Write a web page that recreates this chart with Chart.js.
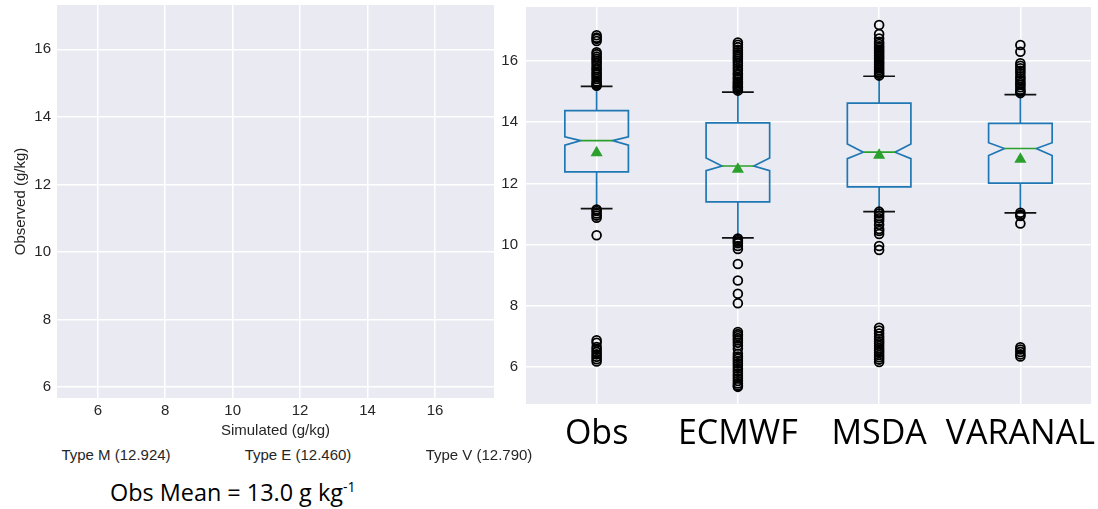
<!DOCTYPE html>
<html lang="en">
<head>
<meta charset="UTF-8">
<title>Specific humidity: simulated vs observed</title>
<script src="https://cdn.jsdelivr.net/npm/chart.js"></script>
<style>
  body {
    margin: 0;
    width: 1098px;
    height: 509px;
    position: relative;
    overflow: hidden;
    background: #fff;
    font-family: "Liberation Sans", Arial, sans-serif;
  }
  #scatterWrap { position: absolute; left: 0; top: 0; }
  #boxWrap { position: absolute; left: 500px; top: 0; }
  .typeLabel {
    position: absolute;
    top: 446px;
    font-size: 15px;
    color: #262626;
    transform: translateX(-50%);
    white-space: nowrap;
  }
  #obsMean {
    position: absolute;
    left: 110px;
    top: 476px;
    font-family: "Open Sans", sans-serif;
    font-size: 23.4px;
    color: #000;
    white-space: nowrap;
  }
  #obsMean sup { font-size: 14px; vertical-align: 9px; line-height: 0; }
</style>
</head>
<body>
<div id="scatterWrap"><canvas id="scatterChart" width="500" height="444"></canvas></div>
<div id="boxWrap"><canvas id="boxChart" width="598" height="509"></canvas></div>
<div class="typeLabel" id="typeM" style="left:116px"></div>
<div class="typeLabel" id="typeE" style="left:298px"></div>
<div class="typeLabel" id="typeV" style="left:479px"></div>
<div id="obsMean"></div>

<script>
// tick positions shared by both panels
const humTicks = [6, 8, 10, 12, 14, 16];

// scatter panel ranges (g/kg)
const simRange = [4.79, 17.75];
const obsRange = [5.68, 17.31];

// box plot summary per source
const boxLabels = ['Obs', 'ECMWF', 'MSDA', 'VARANAL'];
const boxQ1 = [12.38, 11.40, 11.89, 12.01];
const boxQ3 = [14.38, 13.98, 14.62, 13.96];
const boxMedian = [13.40, 12.57, 13.02, 13.14];
const notchLow = [13.25, 12.42, 12.81, 12.91];
const notchHigh = [13.52, 12.83, 13.29, 13.33];
const whiskerLow = [11.18, 10.22, 11.08, 11.04];
const whiskerHigh = [15.17, 14.98, 15.50, 14.90];
const boxMean = [13.0, 12.460, 12.924, 12.790];
const boxRange = [4.80, 17.76];

// outliers beyond the whiskers
const obsFliers = [15.19, 15.22, 15.27, 15.33, 15.41, 15.48, 15.56, 15.62, 15.70, 15.76, 15.84,
  15.92, 16.00, 16.07, 16.14, 16.22, 16.28, 16.65, 16.72, 16.76, 16.84,
  11.15, 11.10, 11.02, 10.95, 10.88, 10.31,
  6.88, 6.80, 6.66, 6.58, 6.50, 6.42, 6.34, 6.26, 6.19];
const ecmwfFliers = [15.03, 15.08, 15.13, 15.17, 15.22, 15.28, 15.33, 15.40, 15.46, 15.54, 15.60,
  15.68, 15.76, 15.84, 15.92, 16.00, 16.07, 16.14, 16.21, 16.28, 16.36, 16.45, 16.53, 16.60,
  10.20, 10.15, 10.10, 10.05, 9.96, 9.86, 9.37, 8.83, 8.40, 8.09,
  7.15, 7.08, 7.02, 6.95, 6.88, 6.80, 6.71, 6.60, 6.44, 6.35, 6.28, 6.20, 6.12, 6.04,
  5.96, 5.88, 5.79, 5.71, 5.63, 5.55, 5.47, 5.40, 5.36];
const msdaFliers = [15.52, 15.58, 15.64, 15.70, 15.76, 15.82, 15.88, 15.94, 16.00, 16.06, 16.12,
  16.18, 16.24, 16.30, 16.36, 16.42, 16.48, 16.55, 16.62, 16.73, 16.88, 17.17,
  11.08, 11.02, 10.94, 10.86, 10.78, 10.65, 10.51, 10.45, 10.35, 9.96, 9.83,
  7.29, 7.20, 7.10, 7.00, 6.92, 6.85, 6.78, 6.70, 6.62, 6.55, 6.48, 6.40, 6.33, 6.25, 6.17];
const varanalFliers = [14.95, 15.00, 15.06, 15.14, 15.22, 15.28, 15.36, 15.43, 15.50, 15.60,
  15.68, 15.76, 15.84, 15.92, 16.30, 16.52,
  11.04, 10.98, 10.94, 10.69,
  6.65, 6.58, 6.50, 6.42, 6.35];

const BG = '#eaeaf2';
const TEXT = '#262626';
const BOX_BLUE = '#1f77b4';
const MED_GREEN = '#2ca02c';

// grey panel behind the grid
const panelBackground = {
  id: 'panelBackground',
  beforeDraw(chart) {
    const {ctx, chartArea: a} = chart;
    ctx.save();
    ctx.fillStyle = BG;
    ctx.fillRect(a.left, a.top, a.width, a.height);
    ctx.restore();
  }
};

const fixedTicks = scale => { scale.ticks = humTicks.map(v => ({value: v})); };

// pin axis thickness and drop the label overhang padding
const fixSize = (w, h) => s => {
  if (w !== null) s.width = w;
  if (h !== null) s.height = h;
  s.paddingTop = 0;
  s.paddingBottom = 0;
  s.paddingLeft = 0;
  s.paddingRight = 0;
};

const gridOpts = {color: '#ffffff', lineWidth: 1.5, drawTicks: false};
const tickFont = {family: '"Liberation Sans", Arial, sans-serif', size: 15};

// ---- left panel: simulated vs observed
new Chart(document.getElementById('scatterChart'), {
  type: 'scatter',
  data: {datasets: [{label: 'Simulated vs observed', data: []}]},
  options: {
    responsive: false,
    animation: false,
    layout: {padding: {left: 8, top: 5, right: 6, bottom: 0}},
    plugins: {legend: {display: false}, tooltip: {enabled: false}},
    scales: {
      x: {
        type: 'linear', min: simRange[0], max: simRange[1],
        afterBuildTicks: fixedTicks,
        afterFit: fixSize(null, 46),
        grid: gridOpts, border: {display: false},
        ticks: {color: TEXT, font: tickFont, padding: 4},
        title: {display: true, text: 'Simulated (g/kg)', color: TEXT, font: tickFont, padding: {top: 2, bottom: 4}}
      },
      y: {
        type: 'linear', min: obsRange[0], max: obsRange[1],
        afterBuildTicks: fixedTicks,
        afterFit: fixSize(49, null),
        grid: gridOpts, border: {display: false},
        ticks: {color: TEXT, font: tickFont, padding: 6},
        title: {display: true, text: 'Observed (g/kg)', color: TEXT, font: tickFont, padding: {top: 4, bottom: 4}}
      }
    }
  },
  plugins: [panelBackground]
});

// ---- right panel: notched box plots
const boxDraw = {
  id: 'boxDraw',
  beforeDatasetsDraw(chart) {
    const {ctx, scales: {x, y}} = chart;
    const half = x.width / boxLabels.length * 0.225;
    const inset = half / 2;
    ctx.save();
    ctx.lineWidth = 1.7;
    boxLabels.forEach((lab, i) => {
      const cx = x.getPixelForValue(i);
      const l = cx - half, r = cx + half;
      const yq1 = y.getPixelForValue(boxQ1[i]);
      const yq3 = y.getPixelForValue(boxQ3[i]);
      const ym = y.getPixelForValue(boxMedian[i]);
      const yn1 = y.getPixelForValue(notchLow[i]);
      const yn2 = y.getPixelForValue(notchHigh[i]);
      // notched box
      ctx.strokeStyle = BOX_BLUE;
      ctx.beginPath();
      ctx.moveTo(l, yq1);
      ctx.lineTo(l, yn1);
      ctx.lineTo(l + inset, ym);
      ctx.lineTo(l, yn2);
      ctx.lineTo(l, yq3);
      ctx.lineTo(r, yq3);
      ctx.lineTo(r, yn2);
      ctx.lineTo(r - inset, ym);
      ctx.lineTo(r, yn1);
      ctx.lineTo(r, yq1);
      ctx.closePath();
      ctx.stroke();
      // whiskers
      ctx.beginPath();
      ctx.moveTo(cx, yq3);
      ctx.lineTo(cx, y.getPixelForValue(whiskerHigh[i]));
      ctx.moveTo(cx, yq1);
      ctx.lineTo(cx, y.getPixelForValue(whiskerLow[i]));
      ctx.stroke();
      // median
      ctx.strokeStyle = MED_GREEN;
      ctx.beginPath();
      ctx.moveTo(l + inset, ym);
      ctx.lineTo(r - inset, ym);
      ctx.stroke();
      // caps
      ctx.strokeStyle = '#111';
      ctx.beginPath();
      [whiskerHigh[i], whiskerLow[i]].forEach(v => {
        const yy = y.getPixelForValue(v);
        ctx.moveTo(cx - inset, yy);
        ctx.lineTo(cx + inset, yy);
      });
      ctx.stroke();
    });
    ctx.restore();
  }
};

const flierPoints = [];
[obsFliers, ecmwfFliers, msdaFliers, varanalFliers].forEach((list, i) => {
  list.forEach(v => flierPoints.push({x: boxLabels[i], y: v}));
});
const meanPoints = boxMean.map((v, i) => ({x: boxLabels[i], y: v}));

new Chart(document.getElementById('boxChart'), {
  type: 'scatter',
  data: {
    datasets: [
      {
        label: 'outliers', data: flierPoints,
        pointStyle: 'circle', pointRadius: 4.4, borderWidth: 1.8,
        borderColor: '#000', backgroundColor: 'rgba(0,0,0,0)'
      },
      {
        label: 'mean', data: meanPoints,
        pointStyle: 'triangle', pointRadius: 7, borderWidth: 0,
        borderColor: MED_GREEN, backgroundColor: MED_GREEN
      }
    ]
  },
  options: {
    responsive: false,
    animation: false,
    layout: {padding: {left: 0, top: 5, right: 4, bottom: 0}},
    plugins: {legend: {display: false}, tooltip: {enabled: false}},
    scales: {
      x: {
        type: 'category', labels: boxLabels, offset: true,
        afterFit: fixSize(null, 105),
        grid: {color: '#ffffff', lineWidth: 1.5, drawTicks: false, offset: false},
        border: {display: false},
        ticks: {color: '#000', font: {family: '"Open Sans", sans-serif', size: 34}, padding: 10, maxRotation: 0, autoSkip: false}
      },
      y: {
        type: 'linear', min: boxRange[0], max: boxRange[1],
        afterBuildTicks: fixedTicks,
        afterFit: fixSize(26, null),
        grid: gridOpts, border: {display: false},
        ticks: {color: TEXT, font: tickFont, padding: 8}
      }
    }
  },
  plugins: [panelBackground, boxDraw]
});

// captions under the scatter panel
const typeText = (name, i) => `Type ${name} (${boxMean[i].toFixed(3)})`;
document.getElementById('typeM').textContent = typeText('M', 2);
document.getElementById('typeE').textContent = typeText('E', 1);
document.getElementById('typeV').textContent = typeText('V', 3);
document.getElementById('obsMean').innerHTML = `Obs Mean = ${boxMean[0].toFixed(1)} g kg<sup>-1</sup>`;
</script>
</body>
</html>
